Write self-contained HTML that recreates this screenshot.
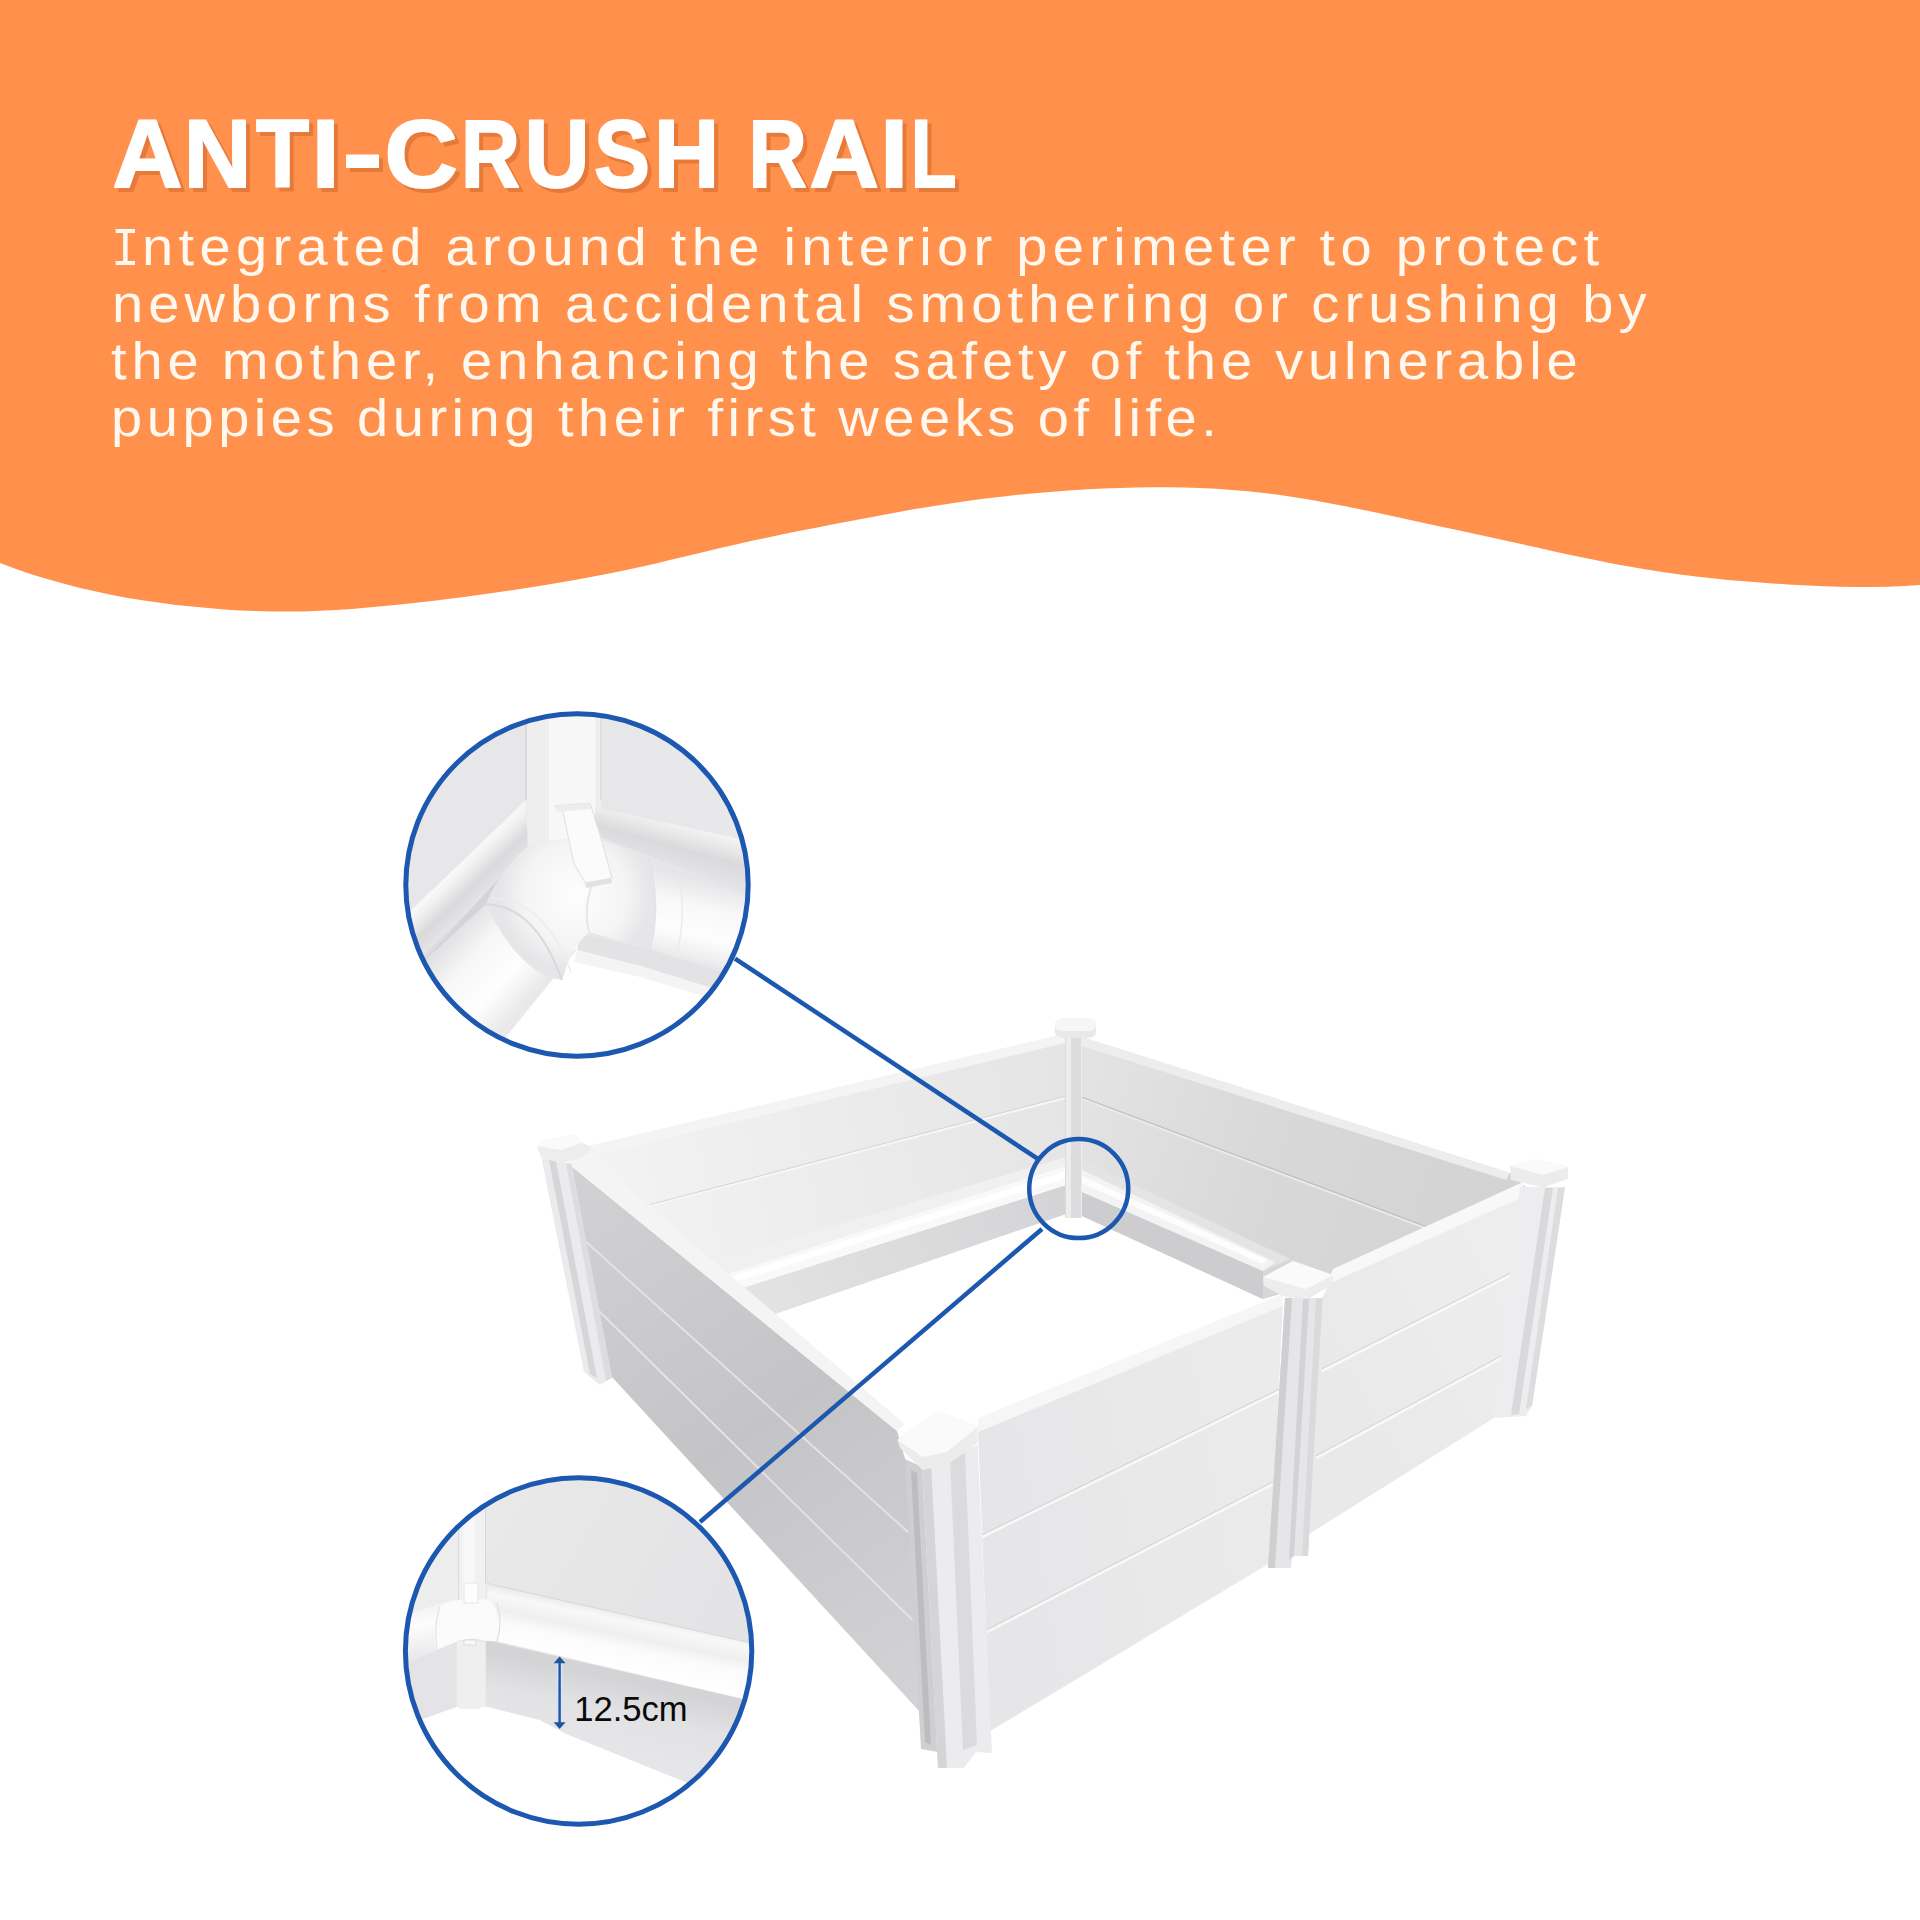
<!DOCTYPE html>
<html><head><meta charset="utf-8"><title>Anti-Crush Rail</title>
<style>
html,body{margin:0;padding:0;background:#fff;}
body{width:1920px;height:1920px;overflow:hidden;position:relative;font-family:"Liberation Sans",sans-serif;}
svg{position:absolute;left:0;top:0;}
.title{position:absolute;left:111.5px;top:100px;font-weight:bold;font-size:95px;line-height:110px;color:#fff;white-space:nowrap;letter-spacing:0.5px;text-shadow:3px 3px 0 #E97B3A;-webkit-text-stroke:2px #fff;}
.ln{position:absolute;left:115px;font-size:51px;line-height:56px;color:#FFF8EE;white-space:nowrap;letter-spacing:6.5px;word-spacing:-2px;transform-origin:0 0;transform:scaleX(1.1);}
</style></head><body>
<svg width="1920" height="1920" viewBox="0 0 1920 1920" xmlns="http://www.w3.org/2000/svg">
<!--WAVE-->
<path id="wave" d="M0,0 H1920 V585.0 L1920,585.0 L1904,586.0 L1888,586.7 L1872,587.0 L1856,587.1 L1840,586.8 L1824,586.3 L1808,585.6 L1792,584.7 L1776,583.7 L1760,582.6 L1744,581.3 L1728,579.9 L1712,578.3 L1696,576.5 L1680,574.5 L1664,572.2 L1648,569.8 L1632,567.1 L1616,564.2 L1600,561.1 L1584,557.8 L1568,554.4 L1552,550.9 L1536,547.3 L1520,543.8 L1504,540.3 L1488,536.8 L1472,533.3 L1456,529.8 L1440,526.4 L1424,522.9 L1408,519.4 L1392,515.9 L1376,512.5 L1360,509.2 L1344,506.0 L1328,502.9 L1312,500.1 L1296,497.4 L1280,495.0 L1264,493.0 L1248,491.2 L1232,489.9 L1216,488.8 L1200,488.0 L1184,487.6 L1168,487.3 L1152,487.3 L1136,487.5 L1120,487.9 L1104,488.5 L1088,489.3 L1072,490.3 L1056,491.4 L1040,492.7 L1024,494.2 L1008,495.9 L992,497.8 L976,499.8 L960,502.0 L944,504.4 L928,506.9 L912,509.6 L896,512.5 L880,515.4 L864,518.4 L848,521.5 L832,524.5 L816,527.7 L800,530.8 L784,534.1 L768,537.4 L752,540.8 L736,544.4 L720,548.1 L704,551.9 L688,555.8 L672,559.6 L656,563.4 L640,567.0 L624,570.4 L608,573.7 L592,576.8 L576,579.8 L560,582.6 L544,585.3 L528,587.8 L512,590.2 L496,592.6 L480,594.8 L464,597.0 L448,599.0 L432,600.9 L416,602.8 L400,604.5 L384,606.1 L368,607.6 L352,608.9 L336,610.0 L320,610.8 L304,611.4 L288,611.6 L272,611.5 L256,611.1 L240,610.4 L224,609.4 L208,608.1 L192,606.6 L176,604.9 L160,602.8 L144,600.5 L128,597.9 L112,595.0 L96,591.6 L80,587.9 L64,583.8 L48,579.3 L32,574.4 L16,568.9 L0,563.0 Z" fill="#FF914D"/>
<!--PRODUCT-->
<g id="product">
<defs>
<linearGradient id="gLeft" gradientUnits="userSpaceOnUse" x1="570" y1="1170" x2="920" y2="1700">
<stop offset="0" stop-color="#D2D2D4"/><stop offset="0.5" stop-color="#C4C4C6"/><stop offset="1" stop-color="#D3D3D5"/>
</linearGradient>
<linearGradient id="gBack" gradientUnits="userSpaceOnUse" x1="600" y1="1200" x2="1065" y2="1100">
<stop offset="0" stop-color="#F3F3F4"/><stop offset="0.5" stop-color="#ECECED"/><stop offset="1" stop-color="#E5E5E6"/>
</linearGradient>
<linearGradient id="gBackBand" gradientUnits="userSpaceOnUse" x1="750" y1="1300" x2="1066" y2="1200">
<stop offset="0" stop-color="#E3E3E4"/><stop offset="1" stop-color="#D4D4D6"/>
</linearGradient>
<linearGradient id="gRightIn" gradientUnits="userSpaceOnUse" x1="1082" y1="1100" x2="1500" y2="1230">
<stop offset="0" stop-color="#E3E3E4"/><stop offset="0.45" stop-color="#D8D8D9"/><stop offset="1" stop-color="#D3D3D4"/>
</linearGradient>
<linearGradient id="gFront" gradientUnits="userSpaceOnUse" x1="980" y1="1500" x2="1280" y2="1450">
<stop offset="0" stop-color="#E6E6E8"/><stop offset="1" stop-color="#EBEBEC"/>
</linearGradient>
<linearGradient id="gRM" gradientUnits="userSpaceOnUse" x1="1320" y1="1400" x2="1510" y2="1300">
<stop offset="0" stop-color="#E9E9EA"/><stop offset="1" stop-color="#EDEDEE"/>
</linearGradient>
</defs>
<!-- back wall interior -->
<polygon points="589,1146 1065,1034 1065,1214 775,1314 582,1150" fill="url(#gBack)"/>
<polygon points="589,1146 1065,1034 1065,1043 597,1155" fill="#F4F4F5"/>
<line x1="648" y1="1206.5" x2="1065" y2="1098" stroke="#F6F6F7" stroke-width="2.2"/>
<line x1="650" y1="1204.5" x2="1065" y2="1096.3" stroke="#D2D2D4" stroke-width="0.9"/>
<!-- gray band under back rail -->
<polygon points="1066,1185 1066,1214 775,1314 744,1287.4" fill="url(#gBackBand)"/>
<!-- back rail -->
<polygon points="1066,1157 1066,1185 744,1287.4 713,1261.4" fill="#F0F0F1"/>
<polygon points="1066,1166 1066,1185 744,1287.4 728,1274" fill="#F9F9FA"/>
<polygon points="1066,1171 1066,1178 738,1281 733,1276" fill="#FFFFFF"/>
<!-- right wall interior -->
<polygon points="1082,1037 1510,1173 1527,1188 1333,1279 1263,1299 1082,1216" fill="url(#gRightIn)"/>
<polygon points="1082,1037 1510,1173 1506,1180 1082,1046" fill="#EDEDEE"/>
<line x1="1082" y1="1099" x2="1436" y2="1232" stroke="#E9E9EA" stroke-width="2"/>
<line x1="1082" y1="1097.2" x2="1438" y2="1231" stroke="#B4B4B6" stroke-width="0.9"/>
<!-- gray band under right rail -->
<polygon points="1082,1190 1082,1216 1263,1299 1263,1271" fill="#CDCDCF"/>
<!-- right rail -->
<polygon points="1082,1160 1082,1192 1263,1271 1290,1259" fill="#E4E4E5"/>
<polygon points="1082,1170 1082,1192 1263,1271 1275,1262" fill="#F3F3F4"/>
<polygon points="1082,1176 1082,1183 1262,1264 1268,1260" fill="#FDFDFD"/>
<!-- C post -->
<rect x="1065" y="1034" width="16.5" height="184" fill="#DCDCDE"/>
<rect x="1066" y="1034" width="5" height="184" fill="#EDEDEE"/>
<path d="M1055,1026 Q1055,1018 1066,1018 H1086 Q1096,1018 1096,1026 V1032 Q1096,1038 1086,1038 H1066 Q1055,1038 1055,1032 Z" fill="#E9E9EA"/>
<path d="M1055,1026 Q1055,1018 1066,1018 H1086 Q1096,1018 1096,1026 Q1096,1031 1086,1031 H1066 Q1055,1031 1055,1026 Z" fill="#F6F6F7"/>
<!-- left wall exterior -->
<polygon points="567.5,1163 897,1431 906,1462 920,1712 611,1376" fill="url(#gLeft)"/>
<polygon points="567.5,1163 582,1150 745,1288 905,1424 897,1431" fill="#F4F4F5"/>
<line x1="584" y1="1240" x2="908" y2="1532" stroke="#E4E4E6" stroke-width="1.8"/>
<line x1="598" y1="1310" x2="912.5" y2="1620" stroke="#E4E4E6" stroke-width="1.8"/>
<!-- BL post -->
<polygon points="541.5,1158 571.5,1164 612,1378 600,1385 584,1372" fill="#EBEBED"/>
<polygon points="549,1160 556,1161 597,1378 590,1374" fill="#D6D6D9"/>
<polygon points="566,1163 571.5,1164 612,1378 606,1381" fill="#DDDDE0"/>
<polygon points="536.7,1146 545,1140 575,1135 582,1143 590,1146 589,1152 580,1158 561,1163.5 541,1157" fill="#EDEDEE"/>
<polygon points="536.7,1146 545,1140 575,1135 582,1143 561,1150" fill="#FAFAFA"/>
<!-- front wall FL-M -->
<polygon points="978,1430 1283,1304 1270,1563 990,1731" fill="url(#gFront)"/>
<polygon points="978,1432 1283,1306 1283,1294 978,1418" fill="#F6F6F7"/>
<line x1="982" y1="1537" x2="1280" y2="1391" stroke="#F8F8F9" stroke-width="2.6"/>
<line x1="982" y1="1534.8" x2="1280" y2="1388.8" stroke="#CFCFD1" stroke-width="0.9"/>
<line x1="987" y1="1632" x2="1273" y2="1484" stroke="#F8F8F9" stroke-width="2.6"/>
<line x1="987" y1="1629.8" x2="1273" y2="1481.8" stroke="#CFCFD1" stroke-width="0.9"/>
<!-- R-M wall -->
<polygon points="1322,1298 1333,1276 1527,1188 1494,1418 1309,1534" fill="url(#gRM)"/>
<polygon points="1326,1287 1333,1269 1523,1182 1525,1196 1330,1283" fill="#F8F8F9"/>
<line x1="1322" y1="1371" x2="1513" y2="1274" stroke="#F8F8F9" stroke-width="2.6"/>
<line x1="1322" y1="1368.8" x2="1513" y2="1271.8" stroke="#CFCFD1" stroke-width="0.9"/>
<line x1="1316" y1="1458" x2="1505" y2="1356" stroke="#F8F8F9" stroke-width="2.6"/>
<line x1="1316" y1="1455.8" x2="1505" y2="1353.8" stroke="#CFCFD1" stroke-width="0.9"/>
<!-- R post -->
<polygon points="1520,1187 1565,1187 1532,1406 1526,1416 1494,1418" fill="#EDEDEF"/>
<polygon points="1545,1188 1553,1188 1519,1414 1511,1415" fill="#D9D9DC"/>
<polygon points="1558,1188 1565,1187 1532,1406 1526,1409" fill="#DDDDE0"/>
<path d="M1510,1166 L1536,1159 L1568,1167 L1568,1179 L1543,1187.5 L1511,1180 Z" fill="#ECECED"/>
<path d="M1510,1166 L1536,1159 L1568,1167 L1543,1175 Z" fill="#FAFAFA"/>
<!-- M post -->
<polygon points="1285,1298 1322.5,1298 1308,1556 1292,1556 1291,1568 1268,1568" fill="#E6E6E8"/>
<polygon points="1285,1298 1292,1298 1275,1568 1268,1568" fill="#CFCFD2"/>
<polygon points="1303,1299 1309,1299 1294,1556 1289,1560" fill="#D3D3D6"/>
<polygon points="1316,1298 1322.5,1298 1308,1556 1302,1556" fill="#DADADD"/>
<polygon points="1263,1277 1293,1261 1333,1275 1332,1285 1308,1299 1285,1297 1264,1286" fill="#EDEDEE"/>
<polygon points="1263,1277 1293,1261 1333,1275 1306,1289" fill="#FAFAFA"/>
<!-- FL post -->
<polygon points="905,1459 922,1467 938,1752 921,1749" fill="#CFCFD2"/>
<polygon points="911,1470 917,1473 931,1745 925,1742" fill="#BDBDC0"/>
<polygon points="922,1467 977.5,1445 992,1753 976,1752 964,1768 938,1768" fill="#ECECEE"/>
<polygon points="922,1467 931,1464 947,1768 938,1768" fill="#D5D5D8"/>
<polygon points="950,1459 965,1453 977,1745 963,1750" fill="#DBDBDE"/>
<polygon points="897.5,1440 905,1434 940,1411 977.5,1427 977.5,1443 947,1465 922.5,1470 900,1448" fill="#ECECED"/>
<polygon points="897.5,1440 905,1434 940,1411 977.5,1427 947,1452 922.5,1457" fill="#FAFAFA"/>
</g>
<g id="circle1">
<defs>
<clipPath id="clipC1"><circle cx="577" cy="885" r="171"/></clipPath>
<linearGradient id="c1mouldL" gradientUnits="userSpaceOnUse" x1="470" y1="852" x2="503" y2="886">
<stop offset="0" stop-color="#FAFAFA"/><stop offset="0.22" stop-color="#F1F1F2"/><stop offset="0.55" stop-color="#D9D9DB"/><stop offset="0.85" stop-color="#E4E4E6"/><stop offset="1" stop-color="#CFCFD2"/>
</linearGradient>
<linearGradient id="c1mouldR" gradientUnits="userSpaceOnUse" x1="668" y1="815" x2="655" y2="862">
<stop offset="0" stop-color="#F8F8F9"/><stop offset="0.3" stop-color="#EAEAEB"/><stop offset="0.6" stop-color="#DADADC"/><stop offset="1" stop-color="#E3E3E5"/>
</linearGradient>
<linearGradient id="c1pipeR" gradientUnits="userSpaceOnUse" x1="700" y1="880" x2="680" y2="962">
<stop offset="0" stop-color="#E6E6E8"/><stop offset="0.3" stop-color="#F8F8F9"/><stop offset="0.65" stop-color="#FDFDFD"/><stop offset="1" stop-color="#E7E7E9"/>
</linearGradient>
<linearGradient id="c1pipeL" gradientUnits="userSpaceOnUse" x1="462" y1="925" x2="535" y2="992">
<stop offset="0" stop-color="#E2E2E4"/><stop offset="0.3" stop-color="#F7F7F8"/><stop offset="0.7" stop-color="#FEFEFE"/><stop offset="1" stop-color="#E9E9EB"/>
</linearGradient>
<radialGradient id="c1elbow" gradientUnits="userSpaceOnUse" cx="575" cy="895" r="75">
<stop offset="0" stop-color="#FEFEFE"/><stop offset="0.7" stop-color="#F4F4F5"/><stop offset="1" stop-color="#E6E6E8"/>
</radialGradient>
</defs>
<g clip-path="url(#clipC1)">
<rect x="400" y="710" width="360" height="360" fill="#E7E7E9"/>
<!-- right wall -->
<polygon points="601,700 760,700 760,845 601,800" fill="#E8E8EA"/>
<!-- post -->
<rect x="526.5" y="700" width="75" height="150" fill="#EEEEEF"/>
<rect x="549" y="700" width="46.5" height="150" fill="#F7F7F8"/>
<line x1="526" y1="700" x2="526" y2="800" stroke="#CFCFD2" stroke-width="1.2"/>
<line x1="601" y1="700" x2="601" y2="800" stroke="#D6D6D8" stroke-width="1.2"/>
<!-- left wall lower gray -->
<polygon points="528,846 395,992 395,1075 520,1075 560,900" fill="#D4D4D6"/>
<!-- left moulding -->
<polygon points="525.5,800.6 395,925.7 395,990.6 528,847" fill="url(#c1mouldL)"/>
<!-- right moulding -->
<polygon points="595,807 760,843.5 760,898.5 601.9,837.8 595,823" fill="url(#c1mouldR)"/>
<!-- floor -->
<polygon points="560,940 650,949 760,984 760,1075 470,1075 505,1036" fill="#FFFFFF"/>
<polygon points="580,934 650,949 760,984 760,1003 640,966 577,950" fill="#E3E3E5"/>
<polygon points="577,950 640,966 760,1003 760,1013 640,977 574,962" fill="#F4F4F5"/>
<!-- right pipe -->
<polygon points="604,841 760,898.5 760,979 589,932" fill="url(#c1pipeR)"/>
<!-- lower-left pipe -->
<polygon points="485.6,904.3 395,988 395,1075 475,1075 576.2,950.5" fill="url(#c1pipeL)"/>
<!-- elbow -->
<path d="M528,846 Q560,834 604,841 L648,856 Q662,905 650,949 L589,932 Q575,945 568,962 L562,980 Q520,975 485.6,904.3 Q500,870 528,846 Z" fill="url(#c1elbow)"/>
<path d="M485.6,904.3 Q535,905 562,980" fill="none" stroke="#DADADC" stroke-width="2.2"/>
<path d="M492,898 Q545,900 571,972" fill="none" stroke="#EDEDEE" stroke-width="1.5"/>
<path d="M648,856 Q662,905 650,949" fill="none" stroke="#E3E3E5" stroke-width="1.6"/>
<path d="M677,868 Q688,912 676,957" fill="none" stroke="#E9E9EA" stroke-width="1.3"/>
<path d="M589,932 Q582,905 596,875" fill="none" stroke="#E6E6E8" stroke-width="2"/>
<!-- clip tab -->
<polygon points="555,806 590,803 601,838 612,878 586,884 574,864 563,812" fill="#FBFBFB" stroke="#DEDEE0" stroke-width="1"/>
<polygon points="555,806 590,803 591,809 556,812" fill="#EDEDEE"/>
<polygon points="584.7,882.5 611,877.9 612,883 586,888" fill="#E2E2E4"/>
</g>
</g><!--/circle1-->
<g id="circle2">
<defs>
<clipPath id="clipC2"><circle cx="578.6" cy="1651" r="173"/></clipPath>
<linearGradient id="c2wall" gradientUnits="userSpaceOnUse" x1="500" y1="1480" x2="740" y2="1620">
<stop offset="0" stop-color="#E9E9EA"/><stop offset="1" stop-color="#E3E3E5"/>
</linearGradient>
<linearGradient id="c2rail" gradientUnits="userSpaceOnUse" x1="628" y1="1612" x2="612" y2="1690">
<stop offset="0" stop-color="#E9E9EA"/><stop offset="0.12" stop-color="#F8F8F9"/><stop offset="0.3" stop-color="#EFEFF0"/><stop offset="0.45" stop-color="#FBFBFB"/><stop offset="0.75" stop-color="#FFFFFF"/><stop offset="1" stop-color="#E9E9EA"/>
</linearGradient>
<linearGradient id="c2under" gradientUnits="userSpaceOnUse" x1="620" y1="1680" x2="605" y2="1750">
<stop offset="0" stop-color="#D4D4D6"/><stop offset="0.45" stop-color="#E2E2E4"/><stop offset="1" stop-color="#E6E6E8"/>
</linearGradient>
<linearGradient id="c2railL" gradientUnits="userSpaceOnUse" x1="430" y1="1600" x2="440" y2="1655">
<stop offset="0" stop-color="#EFEFF0"/><stop offset="0.4" stop-color="#FDFDFD"/><stop offset="1" stop-color="#E8E8EA"/>
</linearGradient>
</defs>
<g clip-path="url(#clipC2)">
<rect x="400" y="1470" width="360" height="360" fill="url(#c2wall)"/>
<!-- left wall (left of post) -->
<polygon points="400,1470 458.6,1470 458.6,1600 400,1618" fill="#EDEDEE"/>
<!-- floor -->
<polygon points="400,1727 456.7,1706.3 485.6,1706.3 540,1720 566.7,1734 760,1812 760,1830 400,1830" fill="#FFFFFF"/>
<!-- under-rail wall right -->
<polygon points="485.6,1640 760,1703 760,1812 566.7,1734 540,1720 485.6,1706.3" fill="url(#c2under)"/>
<!-- under-rail wall left -->
<polygon points="400,1665 458.6,1640 458.6,1706.3 400,1727" fill="#E4E4E6"/>
<!-- right moulding + rail -->
<polygon points="487.5,1583 760,1644.6 760,1703 495.2,1640.8 485.6,1640" fill="url(#c2rail)"/>
<line x1="487.5" y1="1583.5" x2="760" y2="1645" stroke="#D9D9DB" stroke-width="1.2"/>
<!-- left rail -->
<polygon points="458.6,1598 400,1616 400,1666 458.6,1641" fill="url(#c2railL)"/>
<!-- post -->
<rect x="458.6" y="1470" width="27" height="130" fill="#F1F1F2"/>
<rect x="463" y="1470" width="12" height="130" fill="#F8F8F9"/>
<line x1="458.6" y1="1470" x2="458.6" y2="1600" stroke="#DADADC" stroke-width="1"/>
<line x1="485.6" y1="1470" x2="485.6" y2="1584" stroke="#D6D6D8" stroke-width="1"/>
<!-- elbow at corner -->
<path d="M440,1606 Q462,1596 487,1600 Q500,1602 497,1641 L485,1641 Q472,1636 458,1641 L436,1650 Q430,1626 440,1606 Z" fill="#FBFBFB"/>
<path d="M497,1603 Q503,1622 497,1641" fill="none" stroke="#E0E0E2" stroke-width="1.3"/>
<path d="M440,1606 Q433,1628 437,1650" fill="none" stroke="#E3E3E5" stroke-width="1.2"/>
<rect x="464" y="1583" width="14" height="20" fill="#FDFDFD" stroke="#E2E2E4" stroke-width="0.8"/>
<!-- lower post section -->
<polygon points="456.7,1642 485.6,1642 485.6,1706 478,1709 460,1709 456.7,1706" fill="#EFEFF0"/>
<rect x="464" y="1640" width="12" height="5" fill="#F9F9FA" stroke="#D6D6D8" stroke-width="0.8"/>
<!-- arrow -->
<line x1="559.6" y1="1660" x2="559.6" y2="1726" stroke="#D5E3F8" stroke-width="6"/>
<line x1="559.6" y1="1660" x2="559.6" y2="1726" stroke="#1F54A0" stroke-width="2.4"/>
<polygon points="559.6,1656.5 565.6,1663.3 553.6,1663.3" fill="#1F54A0"/>
<polygon points="559.6,1729 565.6,1722.2 553.6,1722.2" fill="#1F54A0"/>
<text x="574.2" y="1721.3" font-family="Liberation Sans, sans-serif" font-size="35" fill="#0A0A0A" textLength="113.5" lengthAdjust="spacingAndGlyphs">12.5cm</text>
</g>
</g><!--/circle2-->
<!--CALLOUTS-->
<g id="callouts" fill="none" stroke="#1C57B0" stroke-width="4.5">
<line x1="735" y1="958.6" x2="1037.5" y2="1158.7"/>
<line x1="1042" y1="1229" x2="700" y2="1522"/>
<circle cx="1078.75" cy="1188.6" r="49.5"/>
<circle cx="577" cy="885" r="171.2" stroke-width="5"/>
<circle cx="578.6" cy="1651" r="173.2" stroke-width="5"/>
</g>
<g id="title" font-family="Liberation Sans, sans-serif" font-weight="bold" font-size="96" stroke-width="2.0" stroke-linejoin="round">
<g transform="translate(4,4)" fill="#E67A3B" stroke="#E67A3B">
<text transform="translate(112.59,187) scale(1.009,1)">A</text>
<text transform="translate(183.70,187) scale(0.975,1)">N</text>
<text transform="translate(255.95,187) scale(0.905,1)">T</text>
<text transform="translate(311.84,187) scale(1.043,1)">I</text>
<rect x="346" y="154.5" width="33" height="13.5" stroke="none"/>
<text transform="translate(384.40,187) scale(1.057,1)">C</text>
<text transform="translate(460.88,187) scale(0.851,1)">R</text>
<text transform="translate(524.53,187) scale(0.938,1)">U</text>
<text transform="translate(593.94,187) scale(0.874,1)">S</text>
<text transform="translate(653.89,187) scale(0.941,1)">H</text>
<text transform="translate(748.42,187) scale(0.843,1)">R</text>
<text transform="translate(809.60,187) scale(1.001,1)">A</text>
<text transform="translate(880.34,187) scale(1.043,1)">I</text>
<text transform="translate(910.76,187) scale(0.781,1)">L</text>
</g>
<g fill="#fff" stroke="#fff">
<text transform="translate(112.59,187) scale(1.009,1)">A</text>
<text transform="translate(183.70,187) scale(0.975,1)">N</text>
<text transform="translate(255.95,187) scale(0.905,1)">T</text>
<text transform="translate(311.84,187) scale(1.043,1)">I</text>
<rect x="346" y="154.5" width="33" height="13.5" stroke="none"/>
<text transform="translate(384.40,187) scale(1.057,1)">C</text>
<text transform="translate(460.88,187) scale(0.851,1)">R</text>
<text transform="translate(524.53,187) scale(0.938,1)">U</text>
<text transform="translate(593.94,187) scale(0.874,1)">S</text>
<text transform="translate(653.89,187) scale(0.941,1)">H</text>
<text transform="translate(748.42,187) scale(0.843,1)">R</text>
<text transform="translate(809.60,187) scale(1.001,1)">A</text>
<text transform="translate(880.34,187) scale(1.043,1)">I</text>
<text transform="translate(910.76,187) scale(0.781,1)">L</text>
</g>
</g>
</svg>
<div id="capI" style="position:absolute;left:110.66px;top:251.4px;height:0;line-height:0;font-family:'Liberation Mono',monospace;font-size:54px;color:#FFF8EE;transform-origin:0 0;transform:scaleX(0.887);white-space:nowrap">I</div>
<div class="ln" id="l1" style="top:219.93px;left:142.4px;letter-spacing:4.83px">ntegrated around the interior perimeter to protect</div>
<div class="ln" id="l2" style="top:276.83px;left:111.8px;letter-spacing:4.59px">newborns from accidental smothering or crushing by</div>
<div class="ln" id="l3" style="top:333.73px;left:110.7px;letter-spacing:4.41px">the mother, enhancing the safety of the vulnerable</div>
<div class="ln" id="l4" style="top:390.63px;left:111.3px;letter-spacing:4.10px">puppies during their first weeks of life.</div>
</body></html>
